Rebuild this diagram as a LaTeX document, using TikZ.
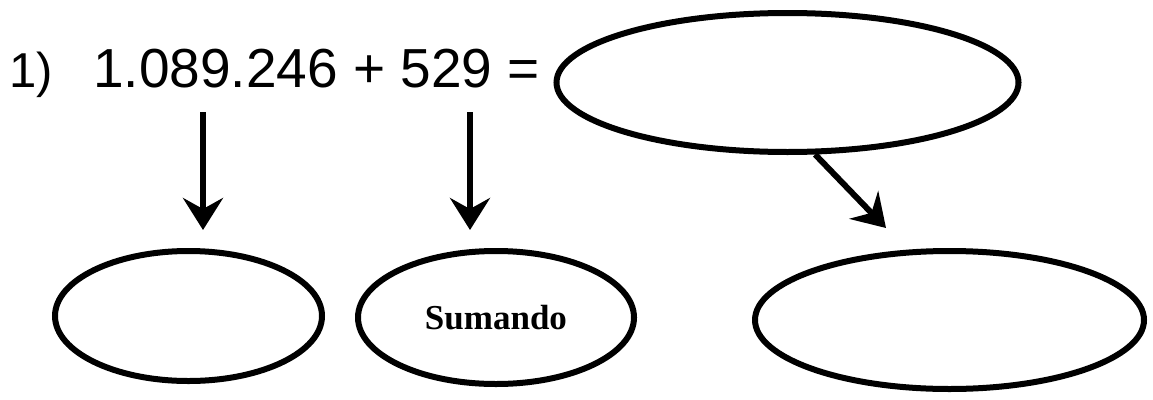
\documentclass[tikz,border=0pt]{standalone}
\usepackage{fontspec}
\setmainfont{Liberation Serif}
\newfontfamily\arialfont{Liberation Sans}
\usetikzlibrary{shapes.geometric,arrows.meta}
\begin{document}
\begin{tikzpicture}[x=1pt,y=-1pt,
  oval/.style={ellipse,draw=black,line width=6pt,inner sep=0pt},
  arr/.style={line width=6pt,-{Stealth[length=32pt,width=40pt,inset=11pt]}},
  eq/.style={inner sep=0pt,anchor=base west,font=\arialfont\fontsize{55}{62}\selectfont}]
\useasboundingbox (0,0) rectangle (1153,399);
\node[eq,font=\arialfont\fontsize{49}{58}\selectfont] (num) at (9,87) {1)};
\node[eq] (expr) at (93,87) {1.089.246 + 529 =};
\node[oval,minimum width=462pt,minimum height=139pt] (res) at (787.5,82.5) {};
\node[oval,minimum width=267pt,minimum height=130pt] (s1) at (188.5,316) {};
\node[oval,minimum width=276pt,minimum height=133pt] (s2) at (496,317.5) {\bfseries\fontsize{35}{40}\selectfont Sumando};
\node[oval,minimum width=389pt,minimum height=138pt] (tot) at (949.5,320) {};
\coordinate (a1s) at (203,112);
\coordinate (a1e) at (203,230);
\coordinate (a2s) at (470,112);
\coordinate (a2e) at (470,230);
\coordinate (a3e) at (886,228);
\draw[arr] (a1s) -- (a1e);
\draw[arr] (a2s) -- (a2e);
\draw[arr] (res.-69) -- (a3e);
\end{tikzpicture}
\end{document}
